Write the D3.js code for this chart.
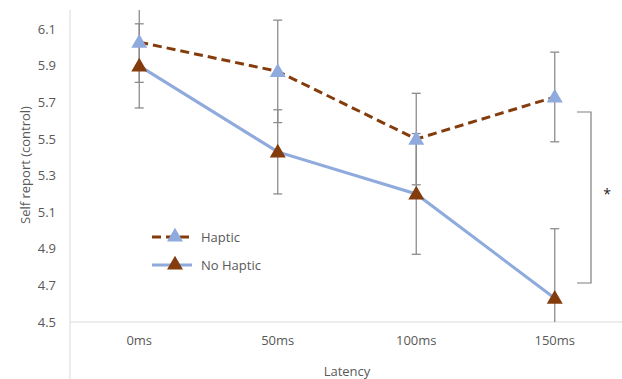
<!DOCTYPE html>
<html><head><meta charset="utf-8">
<script src="https://cdn.jsdelivr.net/npm/d3@7"></script>
<style>body{margin:0;background:#fff}svg{display:block}text{font-family:"Open Sans",Lato,sans-serif;fill:#595959}</style>
</head><body><svg id="c" width="622" height="379"></svg>
<script>
const categories = ["0ms","50ms","100ms","150ms"];
const hapticValues = [6.03, 5.87, 5.50, 5.73];
const hapticErrors = [0.22, 0.28, 0.25, 0.245];
const noHapticValues = [5.90, 5.43, 5.20, 4.63];
const noHapticErrors = [0.23, 0.23, 0.33, 0.38];
const yTicks = [4.5, 4.7, 4.9, 5.1, 5.3, 5.5, 5.7, 5.9, 6.1];
const seriesNames = ["Haptic", "No Haptic"];

const brown = "#843C0C", blue = "#8FAADC", errCol = "#8c8c8c";
const svg = d3.select("#c");
const x = d3.scaleBand().domain(categories).range([70, 624]);
const cx = d => x(d) + x.bandwidth()/2;
const y = d3.scaleLinear().domain([4.5, 6.2]).range([322, 11]);

// axes
svg.append("line").attr("x1",70).attr("x2",70).attr("y1",10).attr("y2",379).attr("stroke","#d9d9d9");
svg.append("line").attr("x1",70).attr("x2",622).attr("y1",y(4.5)).attr("y2",y(4.5)).attr("stroke","#d9d9d9");
svg.selectAll(".yt").data(yTicks).join("text").attr("x",56).attr("y",d=>y(d)).attr("dy","0.35em")
  .attr("text-anchor","end").style("font-size","13px").text(d=>d.toFixed(1));
svg.selectAll(".xt").data(categories).join("text").attr("x",d=>cx(d)).attr("y",345)
  .attr("text-anchor","middle").style("font-size","13px").text(d=>d);
svg.append("text").attr("x",347).attr("y",376).attr("text-anchor","middle").style("font-size","13px").text("Latency");
svg.append("text").attr("transform","translate(30,165) rotate(-90)").attr("text-anchor","middle").style("font-size","13px").text("Self report (control)");

const clip = svg.append("clipPath").attr("id","pc").append("rect").attr("x",70).attr("y",10).attr("width",560).attr("height",312);
const g = svg.append("g").attr("clip-path","url(#pc)");

function errorBars(vals, errs){
  vals.forEach((v,i)=>{
    const xx = cx(categories[i]);
    g.append("line").attr("x1",xx).attr("x2",xx).attr("y1",y(v+errs[i])).attr("y2",y(v-errs[i])).attr("stroke",errCol).attr("stroke-width",1.3);
    [v+errs[i], v-errs[i]].forEach(e=>{
      g.append("line").attr("x1",xx-4.5).attr("x2",xx+4.5).attr("y1",y(e)).attr("y2",y(e)).attr("stroke",errCol).attr("stroke-width",1.3);
    });
  });
}
errorBars(hapticValues, hapticErrors);
errorBars(noHapticValues, noHapticErrors);

const line = d3.line().x((d,i)=>cx(categories[i])).y(d=>y(d));
g.append("path").attr("d",line(noHapticValues)).attr("fill","none").attr("stroke",blue).attr("stroke-width",3);
g.append("path").attr("d",line(hapticValues)).attr("fill","none").attr("stroke",brown).attr("stroke-width",3).attr("stroke-dasharray","9,5");

const tri = d3.symbol().type(d3.symbolTriangle).size(110);
function markers(vals, col){
  g.selectAll(null).data(vals).join("path").attr("d",tri)
    .attr("transform",(d,i)=>`translate(${cx(categories[i])},${y(d)+1})`).attr("fill",col);
}
markers(noHapticValues, brown);
markers(hapticValues, blue);

// significance bracket
svg.append("path").attr("d","M577,112H591V283H577").attr("fill","none").attr("stroke","#7f7f7f").attr("stroke-width",1.2);
svg.append("text").attr("x",607).attr("y",199).attr("text-anchor","middle").style("font-size","14px").style("fill","#222").text("*");

// legend
const leg = [{name:seriesNames[0], lc:brown, mc:blue, dash:"9,5", y:237},{name:seriesNames[1], lc:blue, mc:brown, dash:null, y:265}];
leg.forEach(l=>{
  svg.append("line").attr("x1",152).attr("x2",192).attr("y1",l.y).attr("y2",l.y).attr("stroke",l.lc).attr("stroke-width",3).attr("stroke-dasharray",l.dash);
  svg.append("path").attr("d",tri).attr("transform",`translate(175,${l.y})`).attr("fill",l.mc);
  svg.append("text").attr("x",201).attr("y",l.y).attr("dy","0.35em").style("font-size","13px").text(l.name);
});
</script></body></html>
